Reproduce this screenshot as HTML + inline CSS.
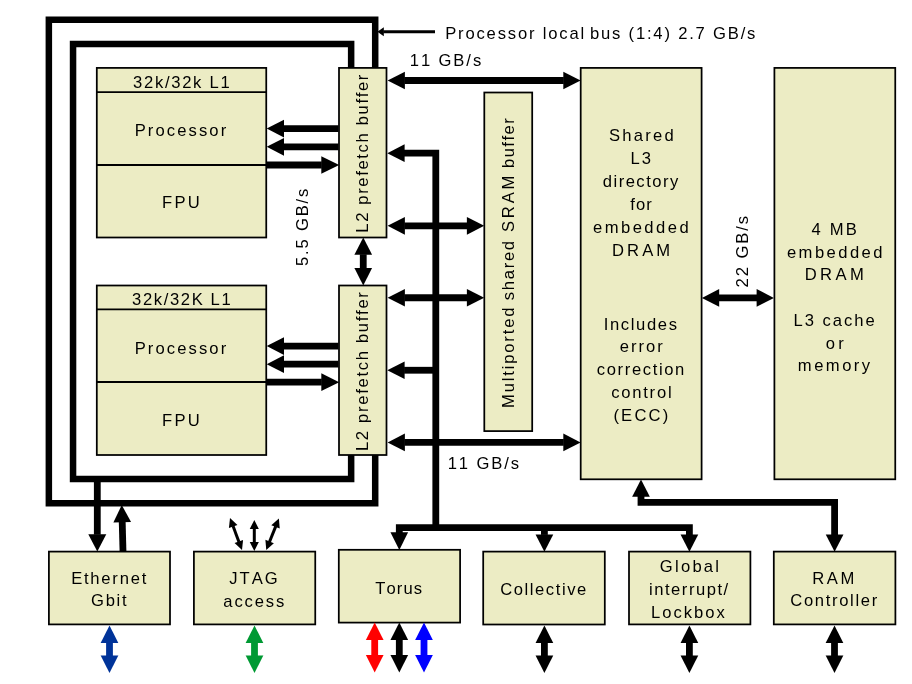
<!DOCTYPE html>
<html lang="en">
<head>
<meta charset="utf-8">
<title>Compute node block diagram</title>
<style>
html,body{margin:0;padding:0;background:#fff;}
body{width:912px;height:684px;overflow:hidden;}
svg{display:block;will-change:transform;}
text{font-family:"Liberation Sans",Arial,Helvetica,sans-serif;fill:#000;font-kerning:none;}
</style>
</head>
<body>
<svg width="912" height="684" viewBox="0 0 912 684">
<rect width="912" height="684" fill="#fff"/>
<path d="M375.2,70 V19.75 H48.85 V503.15 H375.2 V453" fill="none" stroke="#000" stroke-width="6.5" stroke-linejoin="miter"/>
<path d="M351.15,70 V44.0 H73.05 V479.0 H351.15 V453" fill="none" stroke="#000" stroke-width="6.5" stroke-linejoin="miter"/>
<rect x="96.8" y="67.9" width="169.45" height="169.60" fill="#ececc4" stroke="#000" stroke-width="1.75"/>
<line x1="96.8" y1="92" x2="266.25" y2="92" stroke="#000" stroke-width="1.75"/>
<line x1="96.8" y1="165" x2="266.25" y2="165" stroke="#000" stroke-width="1.9"/>
<rect x="96.8" y="285.5" width="169.45" height="169.50" fill="#ececc4" stroke="#000" stroke-width="1.75"/>
<line x1="96.8" y1="309.25" x2="266.25" y2="309.25" stroke="#000" stroke-width="1.75"/>
<line x1="96.8" y1="382" x2="266.25" y2="382" stroke="#000" stroke-width="1.9"/>
<rect x="339" y="67.9" width="47.50" height="169.60" fill="#ececc4" stroke="#000" stroke-width="1.75"/>
<rect x="339" y="285.5" width="47.50" height="169.50" fill="#ececc4" stroke="#000" stroke-width="1.75"/>
<rect x="484.3" y="92.5" width="47.90" height="338.60" fill="#ececc4" stroke="#000" stroke-width="1.75"/>
<rect x="580.7" y="67.9" width="120.90" height="411.40" fill="#ececc4" stroke="#000" stroke-width="1.75"/>
<rect x="774.4" y="67.9" width="120.85" height="411.40" fill="#ececc4" stroke="#000" stroke-width="1.75"/>
<rect x="48.9" y="551.6" width="121.10" height="72.80" fill="#ececc4" stroke="#000" stroke-width="1.75"/>
<rect x="193.9" y="551.6" width="121.35" height="72.80" fill="#ececc4" stroke="#000" stroke-width="1.75"/>
<rect x="338.8" y="549.8" width="121.30" height="72.80" fill="#ececc4" stroke="#000" stroke-width="1.75"/>
<rect x="483.2" y="551.6" width="121.60" height="72.90" fill="#ececc4" stroke="#000" stroke-width="1.75"/>
<rect x="629" y="551.6" width="121.40" height="72.80" fill="#ececc4" stroke="#000" stroke-width="1.75"/>
<rect x="773.8" y="551.6" width="121.60" height="72.80" fill="#ececc4" stroke="#000" stroke-width="1.75"/>
<polygon fill="#000" points="266.70,128.60 284.00,119.75 284.00,137.45"/>
<line x1="338.50" y1="128.60" x2="283.50" y2="128.60" stroke="#000" stroke-width="6.8"/>
<polygon fill="#000" points="266.70,146.80 284.00,137.95 284.00,155.65"/>
<line x1="338.50" y1="146.80" x2="283.50" y2="146.80" stroke="#000" stroke-width="6.8"/>
<polygon fill="#000" points="339.20,165.00 321.30,173.85 321.30,156.15"/>
<line x1="267.00" y1="165.00" x2="321.80" y2="165.00" stroke="#000" stroke-width="6.8"/>
<polygon fill="#000" points="266.70,346.10 284.00,337.25 284.00,354.95"/>
<line x1="338.50" y1="346.10" x2="283.50" y2="346.10" stroke="#000" stroke-width="6.8"/>
<polygon fill="#000" points="266.70,364.20 284.00,355.35 284.00,373.05"/>
<line x1="338.50" y1="364.20" x2="283.50" y2="364.20" stroke="#000" stroke-width="6.8"/>
<polygon fill="#000" points="339.20,382.20 321.30,391.05 321.30,373.35"/>
<line x1="267.00" y1="382.20" x2="321.80" y2="382.20" stroke="#000" stroke-width="6.8"/>
<polygon fill="#000" points="363.25,237.50 372.10,254.80 354.40,254.80"/>
<polygon fill="#000" points="363.25,285.40 354.40,268.10 372.10,268.10"/>
<line x1="363.25" y1="268.60" x2="363.25" y2="254.30" stroke="#000" stroke-width="6.8"/>
<polygon fill="#000" points="580.60,80.50 563.30,89.35 563.30,71.65"/>
<polygon fill="#000" points="387.60,80.50 404.90,71.65 404.90,89.35"/>
<line x1="404.40" y1="80.50" x2="563.80" y2="80.50" stroke="#000" stroke-width="6.8"/>
<polygon fill="#000" points="580.60,442.40 563.30,451.25 563.30,433.55"/>
<polygon fill="#000" points="387.60,442.40 404.90,433.55 404.90,451.25"/>
<line x1="404.40" y1="442.40" x2="563.80" y2="442.40" stroke="#000" stroke-width="6.8"/>
<polygon fill="#000" points="484.20,225.80 466.90,234.65 466.90,216.95"/>
<polygon fill="#000" points="387.60,225.80 404.90,216.95 404.90,234.65"/>
<line x1="404.40" y1="225.80" x2="467.40" y2="225.80" stroke="#000" stroke-width="6.8"/>
<polygon fill="#000" points="484.20,297.75 466.90,306.60 466.90,288.90"/>
<polygon fill="#000" points="387.60,297.75 404.90,288.90 404.90,306.60"/>
<line x1="404.40" y1="297.75" x2="467.40" y2="297.75" stroke="#000" stroke-width="6.8"/>
<path d="M404,153.2 H435.8 V527.6" fill="none" stroke="#000" stroke-width="6.8" stroke-linejoin="miter"/>
<polygon fill="#000" points="387.30,153.20 404.60,144.35 404.60,162.05"/>
<polygon fill="#000" points="387.30,370.25 404.60,361.40 404.60,379.10"/>
<line x1="436.00" y1="370.25" x2="404.10" y2="370.25" stroke="#000" stroke-width="6.8"/>
<path d="M399.3,534 V527.6 H689.4 V535" fill="none" stroke="#000" stroke-width="6.8" stroke-linejoin="miter"/>
<polygon fill="#000" points="399.30,550.00 390.45,532.20 408.15,532.20"/>
<polygon fill="#000" points="544.40,551.70 535.55,534.40 553.25,534.40"/>
<line x1="544.40" y1="527.00" x2="544.40" y2="534.90" stroke="#000" stroke-width="6.8"/>
<polygon fill="#000" points="689.40,551.70 680.55,534.40 698.25,534.40"/>
<path d="M641,496 V502.4 H834.6 V535" fill="none" stroke="#000" stroke-width="6.8" stroke-linejoin="miter"/>
<polygon fill="#000" points="641.00,479.40 649.85,496.70 632.15,496.70"/>
<polygon fill="#000" points="834.60,551.70 825.75,534.40 843.45,534.40"/>
<polygon fill="#000" points="773.90,297.90 756.60,306.75 756.60,289.05"/>
<polygon fill="#000" points="701.90,297.90 719.20,289.05 719.20,306.75"/>
<line x1="718.70" y1="297.90" x2="757.10" y2="297.90" stroke="#000" stroke-width="6.8"/>
<polygon fill="#000" points="97.30,551.50 88.30,534.20 106.30,534.20"/>
<line x1="97.30" y1="480.00" x2="97.30" y2="534.70" stroke="#000" stroke-width="6.8"/>
<polygon fill="#000" points="121.75,505.00 131.07,522.05 113.37,522.53"/>
<line x1="123.00" y1="551.00" x2="122.21" y2="521.79" stroke="#000" stroke-width="6.8"/>
<polygon fill="#000" points="377.40,31.75 383.80,27.25 383.80,36.25"/>
<line x1="435.00" y1="31.75" x2="383.30" y2="31.75" stroke="#000" stroke-width="3.1"/>
<polygon fill="#000" points="242.00,550.00 234.54,543.08 243.07,539.88"/>
<polygon fill="#000" points="230.00,518.00 237.46,524.92 228.93,528.12"/>
<line x1="233.02" y1="526.05" x2="238.98" y2="541.95" stroke="#000" stroke-width="3.0"/>
<polygon fill="#000" points="254.30,551.00 249.75,541.90 258.85,541.90"/>
<polygon fill="#000" points="254.30,520.00 258.85,529.10 249.75,529.10"/>
<line x1="254.30" y1="528.60" x2="254.30" y2="542.40" stroke="#000" stroke-width="3.0"/>
<polygon fill="#000" points="266.25,550.00 265.41,539.86 273.86,543.24"/>
<polygon fill="#000" points="278.90,518.40 279.74,528.54 271.29,525.16"/>
<line x1="275.70" y1="526.38" x2="269.45" y2="542.02" stroke="#000" stroke-width="3.0"/>
<polygon fill="#003399" points="109.50,672.90 100.65,655.60 118.35,655.60"/>
<polygon fill="#003399" points="109.50,625.60 118.35,642.90 100.65,642.90"/>
<line x1="109.50" y1="642.40" x2="109.50" y2="656.10" stroke="#003399" stroke-width="6.8"/>
<polygon fill="#009933" points="254.50,672.90 245.65,655.60 263.35,655.60"/>
<polygon fill="#009933" points="254.50,625.60 263.35,642.90 245.65,642.90"/>
<line x1="254.50" y1="642.40" x2="254.50" y2="656.10" stroke="#009933" stroke-width="6.8"/>
<polygon fill="#ff0000" points="374.70,672.40 365.85,655.10 383.55,655.10"/>
<polygon fill="#ff0000" points="374.70,622.60 383.55,639.90 365.85,639.90"/>
<line x1="374.70" y1="639.40" x2="374.70" y2="655.60" stroke="#ff0000" stroke-width="6.8"/>
<polygon fill="#000" points="399.30,672.40 390.45,655.10 408.15,655.10"/>
<polygon fill="#000" points="399.30,622.60 408.15,639.90 390.45,639.90"/>
<line x1="399.30" y1="639.40" x2="399.30" y2="655.60" stroke="#000" stroke-width="6.8"/>
<polygon fill="#0000ff" points="424.00,672.40 415.15,655.10 432.85,655.10"/>
<polygon fill="#0000ff" points="424.00,622.60 432.85,639.90 415.15,639.90"/>
<line x1="424.00" y1="639.40" x2="424.00" y2="655.60" stroke="#0000ff" stroke-width="6.8"/>
<polygon fill="#000" points="544.40,672.90 535.55,655.60 553.25,655.60"/>
<polygon fill="#000" points="544.40,625.60 553.25,642.90 535.55,642.90"/>
<line x1="544.40" y1="642.40" x2="544.40" y2="656.10" stroke="#000" stroke-width="6.8"/>
<polygon fill="#000" points="689.40,672.90 680.55,655.60 698.25,655.60"/>
<polygon fill="#000" points="689.40,625.60 698.25,642.90 680.55,642.90"/>
<line x1="689.40" y1="642.40" x2="689.40" y2="656.10" stroke="#000" stroke-width="6.8"/>
<polygon fill="#000" points="834.50,672.90 825.65,655.60 843.35,655.60"/>
<polygon fill="#000" points="834.50,625.60 843.35,642.90 825.65,642.90"/>
<line x1="834.50" y1="642.40" x2="834.50" y2="656.10" stroke="#000" stroke-width="6.8"/>
<text x="133.02" y="87.85" font-size="16.6" letter-spacing="1.714">32k/32k L1</text>
<text x="134.69" y="135.70" font-size="16.6" letter-spacing="2.102">Processor</text>
<text x="162.09" y="208.00" font-size="16.6" letter-spacing="2.271">FPU</text>
<text x="132.12" y="304.80" font-size="16.6" letter-spacing="1.623">32k/32K L1</text>
<text x="134.69" y="353.50" font-size="16.6" letter-spacing="2.102">Processor</text>
<text x="162.09" y="426.00" font-size="16.6" letter-spacing="2.271">FPU</text>
<text x="445.14" y="39.20" font-size="16.6" letter-spacing="1.835">Processor local</text>
<text x="590.03" y="39.20" font-size="16.6" letter-spacing="1.804">bus (1:4) 2.7 GB/s</text>
<text x="409.74" y="66.40" font-size="16.6" letter-spacing="1.915">11 GB/s</text>
<text x="447.64" y="469.00" font-size="16.6" letter-spacing="1.915">11 GB/s</text>
<text x="608.90" y="141.00" font-size="16.6" letter-spacing="2.279">Shared</text>
<text x="630.59" y="164.00" font-size="16.6" letter-spacing="1.827">L3</text>
<text x="602.75" y="187.00" font-size="16.6" letter-spacing="1.485">directory</text>
<text x="630.21" y="210.00" font-size="16.6" letter-spacing="1.069">for</text>
<text x="592.94" y="233.00" font-size="16.6" letter-spacing="2.475">embedded</text>
<text x="611.99" y="256.00" font-size="16.6" letter-spacing="3.116">DRAM</text>
<text x="603.72" y="330.00" font-size="16.6" letter-spacing="1.643">Includes</text>
<text x="619.84" y="352.00" font-size="16.6" letter-spacing="1.958">error</text>
<text x="596.84" y="375.00" font-size="16.6" letter-spacing="1.622">correction</text>
<text x="611.14" y="398.00" font-size="16.6" letter-spacing="1.782">control</text>
<text x="613.42" y="421.00" font-size="16.6" letter-spacing="2.189">(ECC)</text>
<text x="811.47" y="235.00" font-size="16.6" letter-spacing="2.204">4 MB</text>
<text x="786.94" y="258.00" font-size="16.6" letter-spacing="2.446">embedded</text>
<text x="804.69" y="280.00" font-size="16.6" letter-spacing="3.416">DRAM</text>
<text x="793.59" y="326.00" font-size="16.6" letter-spacing="1.975">L3 cache</text>
<text x="825.85" y="349.00" font-size="16.6" letter-spacing="3.213">or</text>
<text x="797.85" y="371.00" font-size="16.6" letter-spacing="2.477">memory</text>
<text x="71.16" y="584.10" font-size="16.6" letter-spacing="1.766">Ethernet</text>
<text x="91.12" y="606.30" font-size="16.6" letter-spacing="1.671">Gbit</text>
<text x="229.19" y="584.00" font-size="16.6" letter-spacing="2.025">JTAG</text>
<text x="223.34" y="606.50" font-size="16.6" letter-spacing="1.848">access</text>
<text x="375.28" y="593.80" font-size="16.6" letter-spacing="1.110">Torus</text>
<text x="500.21" y="594.70" font-size="16.6" letter-spacing="1.569">Collective</text>
<text x="659.82" y="572.10" font-size="16.6" letter-spacing="2.252">Global</text>
<text x="649.09" y="595.20" font-size="16.6" letter-spacing="1.506">interrupt/</text>
<text x="650.89" y="617.90" font-size="16.6" letter-spacing="2.035">Lockbox</text>
<text x="812.19" y="583.80" font-size="16.6" letter-spacing="2.668">RAM</text>
<text x="790.31" y="605.70" font-size="16.6" letter-spacing="1.662">Controller</text>
<text x="368.20" y="232.71" font-size="16.6" letter-spacing="1.648" transform="rotate(-90 368.20 232.71)">L2 prefetch buffer</text>
<text x="368.20" y="451.11" font-size="16.6" letter-spacing="1.701" transform="rotate(-90 368.20 451.11)">L2 prefetch buffer</text>
<text x="307.70" y="266.01" font-size="16.6" letter-spacing="1.826" transform="rotate(-90 307.70 266.01)">5.5 GB/s</text>
<text x="514.00" y="407.96" font-size="16.6" letter-spacing="1.832" transform="rotate(-90 514.00 407.96)">Multiported</text>
<text x="514.00" y="300.16" font-size="16.6" letter-spacing="1.695" transform="rotate(-90 514.00 300.16)">shared</text>
<text x="514.00" y="232.05" font-size="16.6" letter-spacing="2.818" transform="rotate(-90 514.00 232.05)">SRAM</text>
<text x="514.00" y="168.07" font-size="16.6" letter-spacing="1.479" transform="rotate(-90 514.00 168.07)">buffer</text>
<text x="747.90" y="287.38" font-size="16.6" letter-spacing="1.910" transform="rotate(-90 747.90 287.38)">22 GB/s</text>
</svg>
</body>
</html>
